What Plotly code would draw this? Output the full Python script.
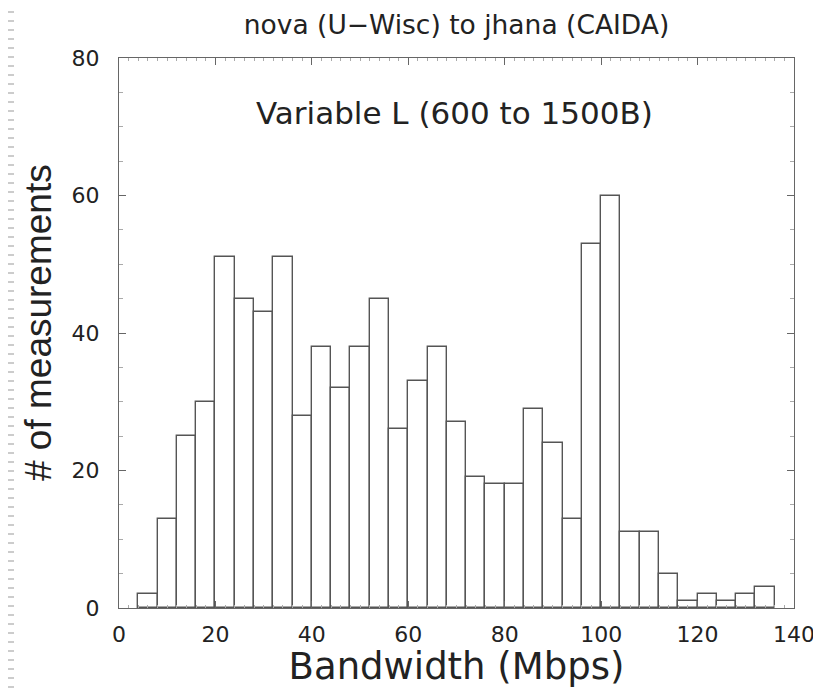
import plotly.graph_objects as go

# Histogram bins (Mbps): each bin starts at bin_start and is 4 Mbps wide
bin_start = [4, 8, 12, 16, 20, 24, 28, 32, 36, 40, 44, 48, 52, 56, 60, 64, 68,
             72, 76, 80, 84, 88, 92, 96, 100, 104, 108, 112, 116, 120, 124, 128, 132]
bin_width = 4
counts = [2, 13, 25, 30, 51, 45, 43, 51, 28, 38, 32, 38, 45, 26, 33, 38, 27,
          19, 18, 18, 29, 24, 13, 53, 60, 11, 11, 5, 1, 2, 1, 2, 3]

x_ticks = [0, 20, 40, 60, 80, 100, 120, 140]
y_ticks = [0, 20, 40, 60, 80]

WIDE = "DejaVu Sans, Verdana, sans-serif"
NARROW = "Liberation Sans, Arial, Helvetica, sans-serif"
INK = "#222222"
LINE = "#666666"

fig = go.Figure()
fig.add_trace(go.Bar(
    x=[s + bin_width / 2 for s in bin_start],
    y=counts,
    width=[bin_width] * len(bin_start),
    marker=dict(color="white", line=dict(color="#555555", width=1.4)),
    hoverinfo="x+y",
    showlegend=False,
))

fig.update_layout(
    width=813, height=680,
    paper_bgcolor="white", plot_bgcolor="white",
    margin=dict(l=111, r=27, t=50, b=80, autoexpand=False),
    font=dict(family=WIDE, color=INK),
    bargap=0,
    title=dict(text="nova (U\u2212Wisc) to jhana (CAIDA)", x=0.5, xref="paper", xanchor="center",
               y=1 - 17 / 680, yanchor="middle", font=dict(size=26.5, color=INK)),
    xaxis=dict(range=[0, 140], tickvals=x_ticks, ticks="inside", ticklen=7,
               tickcolor=LINE, showgrid=False, zeroline=False, automargin=False,
               showline=True, linecolor=LINE, linewidth=1.4, mirror="ticks",
               tickfont=dict(size=22, color=INK, family=WIDE), ticklabelstandoff=6,
               minor=dict(dtick=2, ticks="inside", ticklen=3, tickcolor="#aaaaaa"),
               title=dict(text="Bandwidth (Mbps)", font=dict(size=37, color=INK, family=WIDE),
                          standoff=0)),
    yaxis=dict(range=[0, 80], tickvals=y_ticks, ticks="inside", ticklen=7,
               tickcolor=LINE, showgrid=False, zeroline=False, automargin=False,
               showline=True, linecolor=LINE, linewidth=1.4, mirror="ticks",
               tickfont=dict(size=22, color=INK, family=WIDE), ticklabelstandoff=14,
               minor=dict(dtick=5, ticks="inside", ticklen=4, tickcolor="#aaaaaa")),
    annotations=[
        dict(text="Variable L (600 to 1500B)", x=69.5, y=72,
             xanchor="center", yanchor="middle",
             showarrow=False, font=dict(size=31, color=INK, family=WIDE)),
        dict(text="# of measurements", xref="paper", yref="paper",
             x=-81 / 675, y=(600 - 315) / 550, xanchor="center", yanchor="middle",
             textangle=-90, showarrow=False,
             font=dict(size=37, color=INK, family=NARROW)),
    ],
    shapes=[dict(type="line", xref="paper", yref="paper", x0=-108 / 675, x1=-108 / 675,
                 y0=-80 / 550, y1=1 + 50 / 550,
                 line=dict(color="#cccccc", width=6, dash="2px,7px"))],
)

fig.write_html("out.html")
